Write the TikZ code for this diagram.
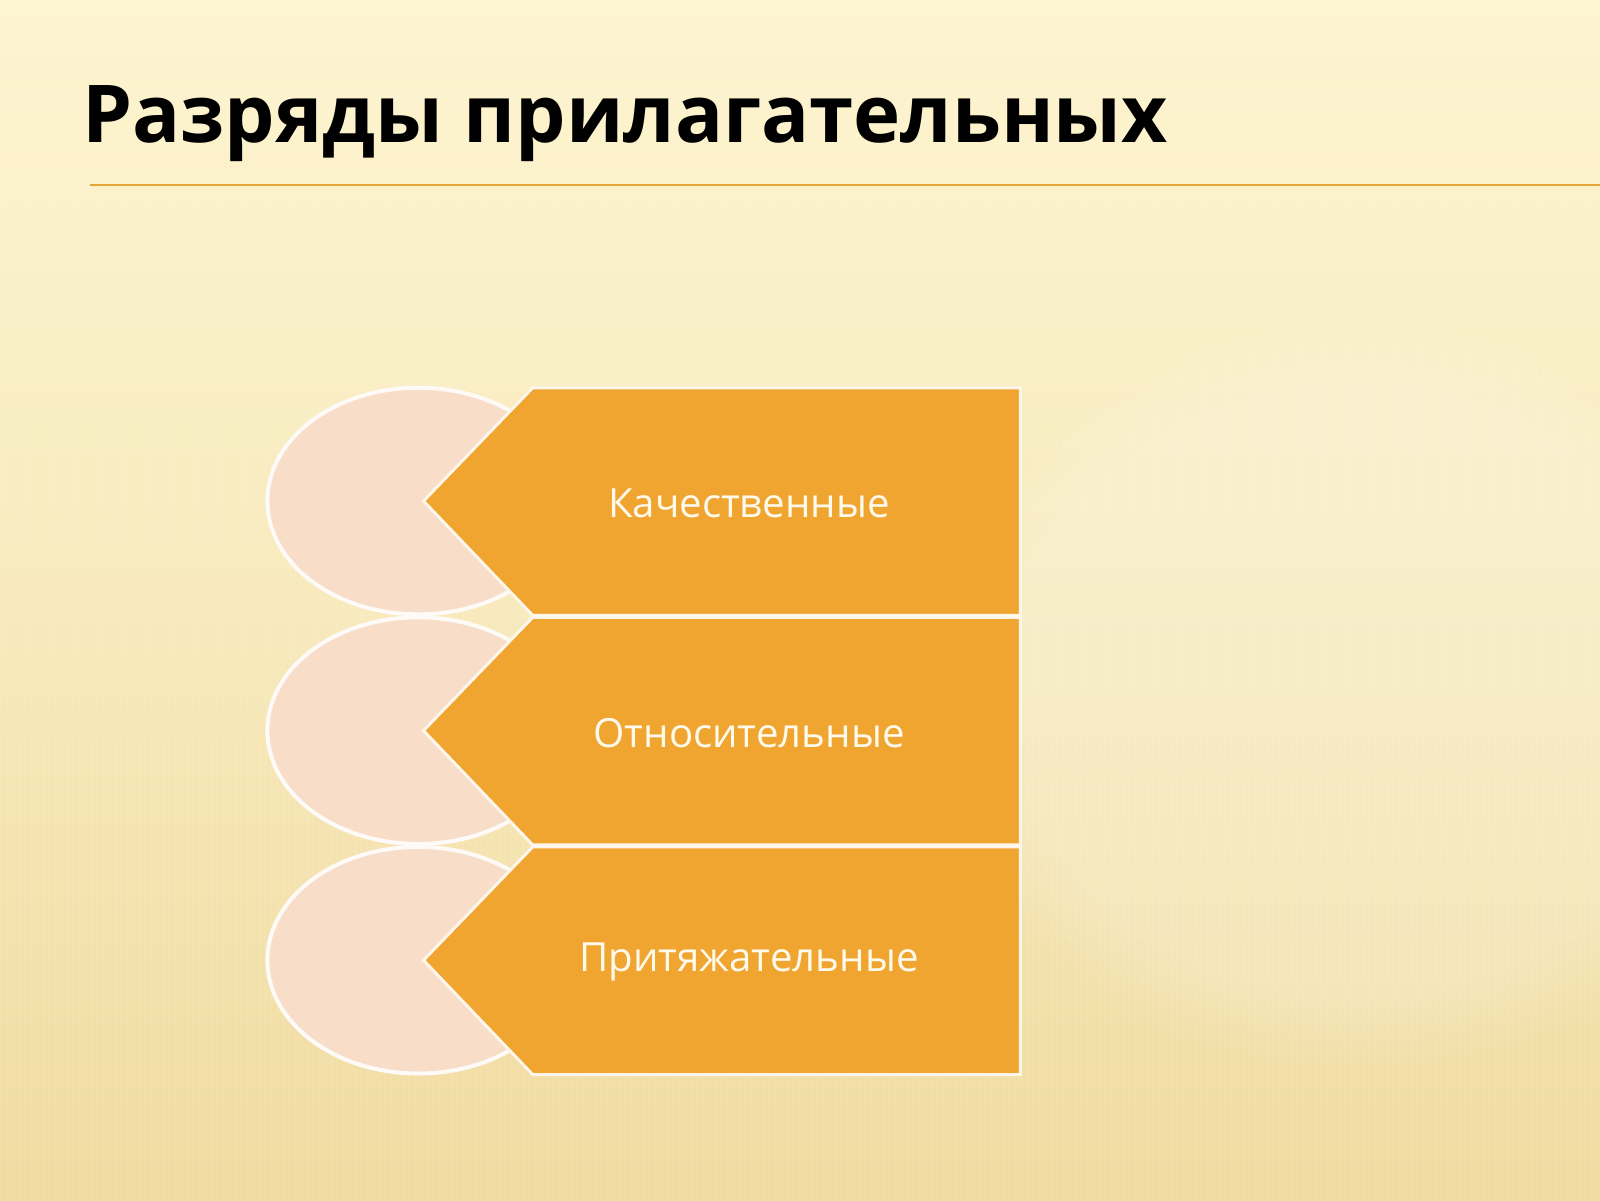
\documentclass[tikz,border=0pt]{standalone}
\usepackage{fontspec}
\setmainfont{Open Sans}
\usetikzlibrary{shapes.geometric, positioning, calc, patterns, fadings}
\definecolor{bgtop}{RGB}{253,244,208}
\definecolor{bgbottom}{RGB}{240,219,160}
\definecolor{rulecol}{RGB}{232,164,58}
\definecolor{boxorange}{RGB}{240,165,48}
\definecolor{piecol}{RGB}{248,221,200}
\definecolor{textcream}{RGB}{255,250,236}

\begin{document}
\begin{tikzpicture}[
        x=0.5102pt, y=-0.5102pt,
        pie/.style={ellipse, draw=white!85!piecol, line width=2pt, fill=piecol, minimum width=151pt, minimum height=113.3pt, inner sep=0pt},
        arrowbox/.style={draw=white!90!boxorange, line width=1.5pt, fill=boxorange, line join=miter},
        label/.style={text=textcream, font=\fontsize{20.1}{23}\selectfont}
      ]
        % Background
        \useasboundingbox (0,0) rectangle (1568,1176);
        \shade[top color=bgtop, bottom color=bgbottom, middle color=bgtop!60!bgbottom] (0,0) rectangle (1568,1176);
        \fill[pattern=vertical lines, pattern color=white, opacity=0.12] (0,190) rectangle (1568,1176);
        \fill[white, opacity=0.18, path fading=circle with fuzzy edge 20 percent] (1330,680) ellipse (430 and 370);

        % Title
        \node (title) [anchor=base west, inner sep=0pt, font=\bfseries\fontsize{39.9}{44}\selectfont] at (80,140) {Разряды прилагательных};
        \coordinate (rule_start) at (88,181);
        \coordinate (rule_end) at (1568,181);
        \draw [rulecol, line width=1pt] (rule_start) -- (rule_end);

        % Circles behind the arrows
        \node (kach_pie) [pie] at (410,491) {};
        \node (otn_pie) [pie] at (410,716) {};
        \node (prit_pie) [pie] at (410,941) {};

        % Arrow boxes
        \draw [arrowbox] (415,491) -- (522,380) -- (1000,380) -- (1000,603) -- (522,603) -- cycle;
        \draw [arrowbox] (415,716) -- (522,605) -- (1000,605) -- (1000,828) -- (522,828) -- cycle;
        \draw [arrowbox] (415,941) -- (522,830) -- (1000,830) -- (1000,1053) -- (522,1053) -- cycle;

        % Labels
        \node (kach) [label] at (734,493) {Качественные};
        \node (otn) [label] at (734,718) {Относительные};
        \node (prit) [label] at (734,943) {Притяжательные};
      \end{tikzpicture}
\end{document}
